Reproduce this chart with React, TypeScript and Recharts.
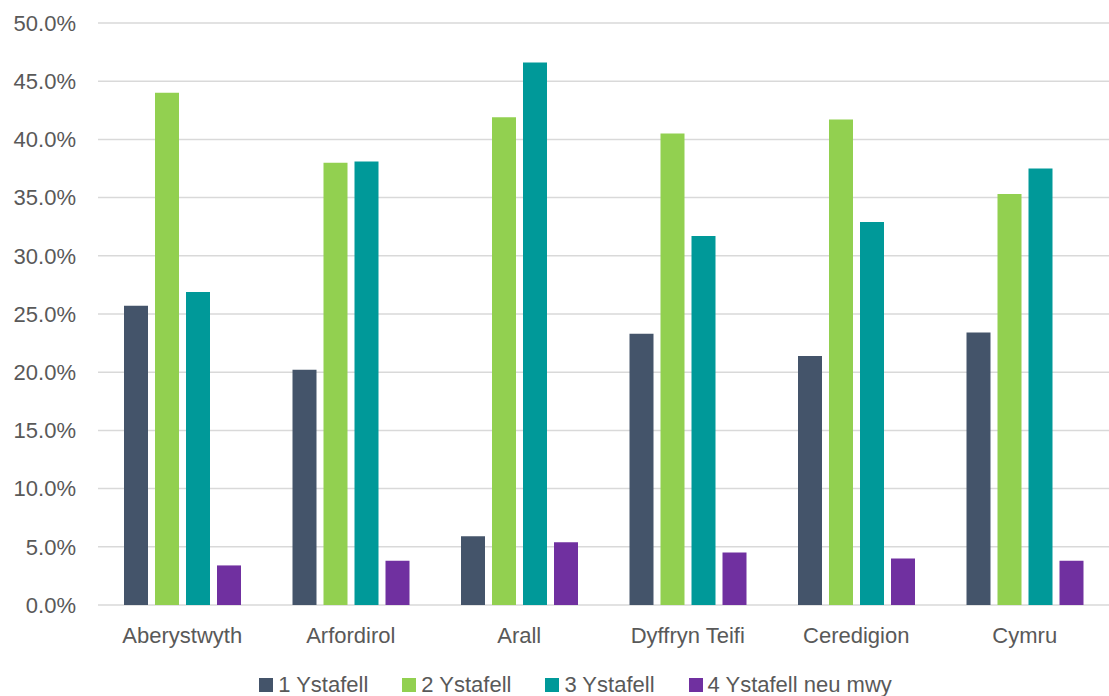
import React from "react";
import { BarChart, Bar, XAxis, YAxis, CartesianGrid, Legend } from "recharts";

const categories = ["Aberystwyth", "Arfordirol", "Arall", "Dyffryn Teifi", "Ceredigion", "Cymru"];
const room1 = [25.7, 20.2, 5.9, 23.3, 21.4, 23.4];
const room2 = [44.0, 38.0, 41.9, 40.5, 41.7, 35.3];
const room3 = [26.9, 38.1, 46.6, 31.7, 32.9, 37.5];
const room4 = [3.4, 3.8, 5.4, 4.5, 4.0, 3.8];
const yTicks = [0, 5, 10, 15, 20, 25, 30, 35, 40, 45, 50];
const seriesNames = ["1 Ystafell", "2 Ystafell", "3 Ystafell", "4 Ystafell neu mwy"];
const colors = ["#44546a", "#92d050", "#009999", "#7030a0"];

const data = categories.map((c, i) => ({
  name: c,
  s1: room1[i],
  s2: room2[i],
  s3: room3[i],
  s4: room4[i],
}));

const FONT = "'Liberation Sans', Arial, sans-serif";
const TEXT = "#595959";

const LegendContent = () => (
  <div style={{ display: "flex", justifyContent: "center", fontFamily: FONT, fontSize: 22, color: TEXT, paddingTop: 17, paddingLeft: 42 }}>
    {seriesNames.map((n, i) => (
      <div key={n} style={{ display: "flex", alignItems: "center", marginRight: i < 3 ? 34 : 0 }}>
        <span style={{ display: "inline-block", width: 14, height: 14, background: colors[i], marginRight: 5 }} />
        <span>{n}</span>
      </div>
    ))}
  </div>
);

export default function App() {
  return (
    <div style={{ position: "absolute", left: 0, top: 0, width: 1109, height: 696, background: "#fff", overflow: "hidden" }}>
      <BarChart
        width={1109}
        height={696}
        data={data}
        margin={{ top: 23, right: 0, left: 0, bottom: 0 }}
        barSize={24}
        barGap={7}
        barCategoryGap="15%"
      >
        <CartesianGrid vertical={false} stroke="#d9d9d9" strokeWidth={1.5} />
        <XAxis
          dataKey="name"
          axisLine={false}
          tickLine={false}
          tickSize={0}
          tickMargin={22}
          height={50}
          tick={{ fill: TEXT, fontSize: 22, fontFamily: FONT }}
        />
        <YAxis
          width={98}
          domain={[0, 50]}
          ticks={yTicks}
          axisLine={false}
          tickLine={false}
          tickSize={0}
          tickMargin={22}
          tickFormatter={(v: number) => v.toFixed(1) + "%"}
          tick={{ fill: TEXT, fontSize: 22, fontFamily: FONT }}
        />
        <Legend verticalAlign="bottom" height={41} content={<LegendContent />} />
        <Bar dataKey="s1" name={seriesNames[0]} fill={colors[0]} isAnimationActive={false} />
        <Bar dataKey="s2" name={seriesNames[1]} fill={colors[1]} isAnimationActive={false} />
        <Bar dataKey="s3" name={seriesNames[2]} fill={colors[2]} isAnimationActive={false} />
        <Bar dataKey="s4" name={seriesNames[3]} fill={colors[3]} isAnimationActive={false} />
      </BarChart>
    </div>
  );
}
